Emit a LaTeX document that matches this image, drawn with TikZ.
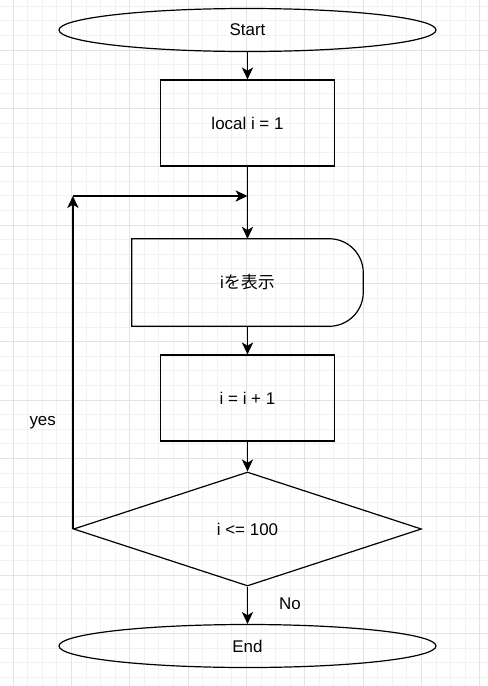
\documentclass[tikz,border=0pt]{standalone}
\usepackage{fontspec}
\setmainfont{Liberation Sans}
\newfontfamily\cjk{Noto Sans CJK JP}
\usetikzlibrary{shapes.geometric,arrows.meta}

\begin{document}
\begin{tikzpicture}[x=0.75pt,y=0.75pt,
    every node/.style={font=\fontsize{12.7pt}{15pt}\selectfont},
    terminal/.style={draw,ellipse,line width=0.9pt,minimum width=282.75pt,minimum height=32.25pt,inner sep=0pt},
    process/.style={draw,rectangle,line width=0.9pt,minimum width=130.5pt,minimum height=64.5pt},
    decision/.style={draw,diamond,line width=0.9pt,minimum width=261pt,minimum height=85.5pt,inner sep=0pt},
    flow/.style={line width=0.9pt,-{Stealth[length=9pt,width=8.5pt,inset=2.5pt]}}]
      \useasboundingbox (0,0) rectangle (488,-686);
      \clip (0,0) rectangle (488,-686);
      % grid
      \foreach \k in {0,...,32}
        \draw[black!5,line width=0.6pt] (13+\k*14.583,0) -- (13+\k*14.583,-686);
      \foreach \k in {0,...,46}
        \draw[black!5,line width=0.6pt] (0,-6.25-\k*14.583) -- (488,-6.25-\k*14.583);
      \foreach \m in {0,...,8}
        \draw[black!11,line width=0.6pt] (13+\m*58.333,0) -- (13+\m*58.333,-686);
      \foreach \m in {0,...,10}
        \draw[black!11,line width=0.6pt] (0,-50-\m*58.333) -- (488,-50-\m*58.333);

      \node[terminal] (start) at (247.5,-30) {Start};
      \node[process] (init) at (247.5,-123) {local i = 1};
      \node[minimum width=173.25pt,minimum height=65.25pt] (show) at (247.5,-282.5) {i{\cjk を表示}};
      \draw[line width=0.9pt] (show.north west) -- ([xshift=-25.5pt]show.north east)
        arc[start angle=90,end angle=0,radius=25.5pt] -- ([yshift=25.5pt]show.south east)
        arc[start angle=0,end angle=-90,radius=25.5pt] -- (show.south west) -- cycle;
      \node[process] (incr) at (247.5,-398) {i = i + 1};
      \node[decision] (cond) at (247.5,-529) {i <= 100};
      \node[terminal] (stop) at (247.5,-646) {End};
      \coordinate (join) at (247.5,-196);
      \coordinate (back) at (cond.west |- join);

      \draw[flow] (start) -- (init);
      \draw[flow] (init) -- (show);
      \draw[flow] (show) -- (incr);
      \draw[flow] (incr) -- (cond);
      \draw[flow] (cond) -- (stop) node[pos=0.45,right=20pt] {No};
      \draw[flow] (cond.west) -- (back) node[pos=0.32,left=9pt] {yes};
      \draw[flow] (back) -- (join);
\end{tikzpicture}
\end{document}
